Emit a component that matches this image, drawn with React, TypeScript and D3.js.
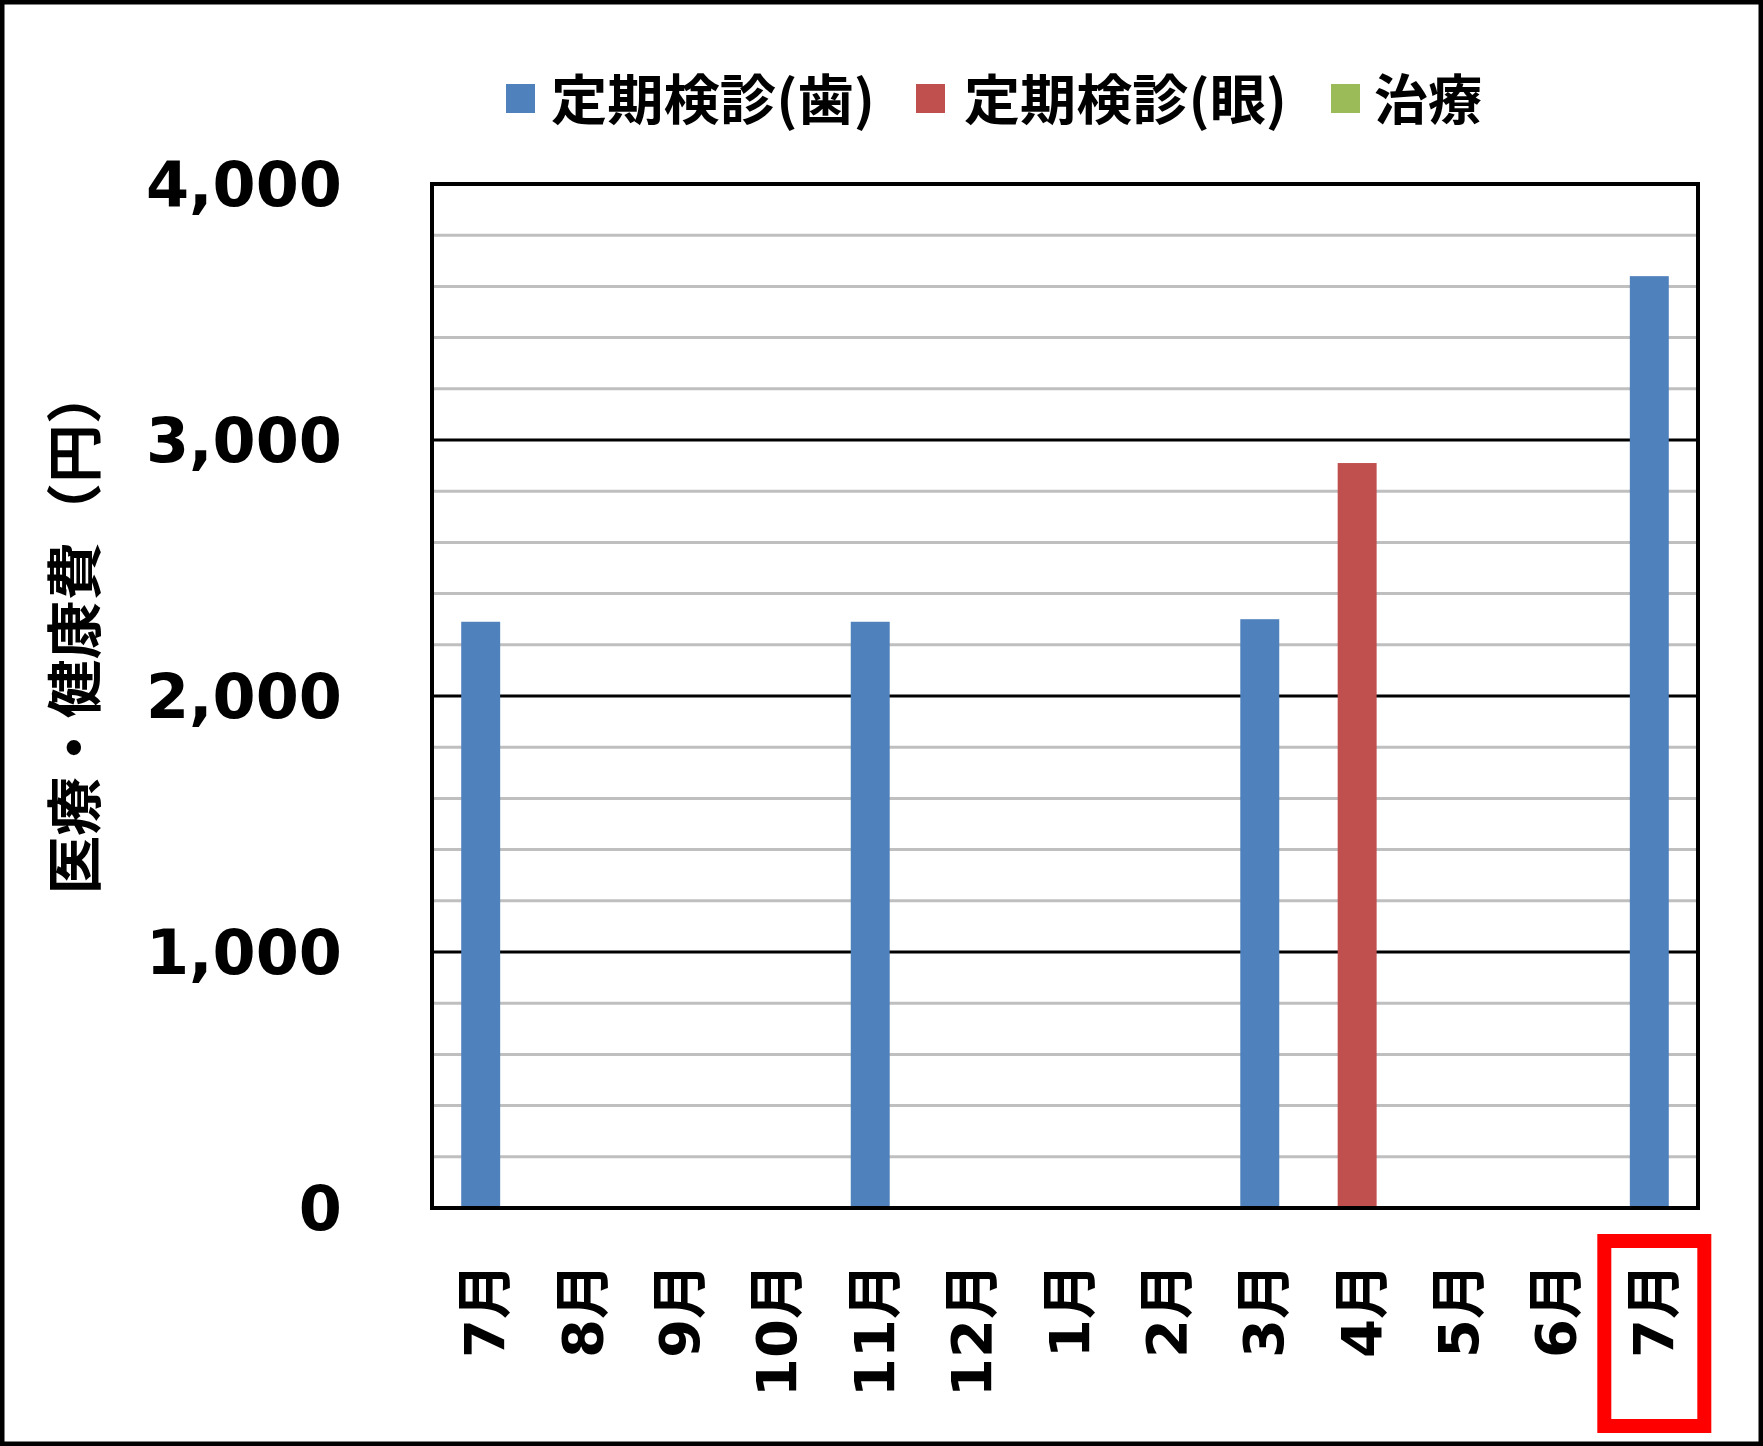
import React from "react";
import * as d3 from "d3";

const categories = ["7月", "8月", "9月", "10月", "11月", "12月", "1月", "2月", "3月", "4月", "5月", "6月", "7月"];
const seriesNames = ["定期検診(歯)", "定期検診(眼)", "治療"];
const dental = [2290, 0, 0, 0, 2290, 0, 0, 0, 2300, 0, 0, 0, 3640];
const eye = [0, 0, 0, 0, 0, 0, 0, 0, 0, 2910, 0, 0, 0];
const treatment = [0, 0, 0, 0, 0, 0, 0, 0, 0, 0, 0, 0, 0];
const seriesColors = ["#4F81BD", "#C0504D", "#9BBB59"];
const majorTicks = [0, 1000, 2000, 3000, 4000];
const yTitle = "医療・健康費（円）";

const W = 1763;
const H = 1446;
const L = 432;
const R = 1698;
const T = 184;
const B = 1208;

export default function App() {
  const idx = categories.map((_, i) => i);
  const x = d3.scaleBand<number>().domain(idx).range([L, R]).paddingInner(0.6).paddingOuter(0.3);
  const y = d3.scaleLinear().domain([0, 4000]).range([B, T]);
  const rows = idx.map((i) => ({ i, s0: dental[i], s1: eye[i], s2: treatment[i] }));
  const stacked = d3.stack<any>().keys(["s0", "s1", "s2"])(rows);
  const minor = d3.range(200, 4000, 200).filter((v) => v % 1000 !== 0);
  const numFont = "'DejaVu Sans', 'Noto Sans CJK JP', sans-serif";
  const cjkFont = "'Noto Sans CJK JP', sans-serif";
  const fmt = d3.format(",");

  const legendItems = [
    { sx: 506, tx: 551, tl: 324 },
    { sx: 916, tx: 964, tl: 323 },
    { sx: 1331, tx: 1374, tl: 108 },
  ];

  const last = idx[idx.length - 1];
  const boxCx = (x(last) as number) + x.bandwidth() / 2 + 5;

  return (
    <svg width={W} height={H} style={{ position: "absolute", left: 0, top: 0, background: "#fff" }}>
      <rect x={0} y={0} width={W} height={H} fill="#fff" />
      {/* gridlines */}
      {minor.map((v) => (
        <line key={"m" + v} x1={L} x2={R} y1={y(v)} y2={y(v)} stroke="#BFBFBF" strokeWidth={3} />
      ))}
      {majorTicks.filter((v) => v > 0 && v < 4000).map((v) => (
        <line key={"M" + v} x1={L} x2={R} y1={y(v)} y2={y(v)} stroke="#000" strokeWidth={3} />
      ))}
      {/* bars */}
      {stacked.map((s, si) =>
        s.map((d, di) =>
          d[1] - d[0] > 0 ? (
            <rect
              key={si + "-" + di}
              x={x(di) as number}
              y={y(d[1])}
              width={x.bandwidth()}
              height={y(d[0]) - y(d[1])}
              fill={seriesColors[si]}
            />
          ) : null
        )
      )}
      {/* plot border */}
      <rect x={L} y={T} width={R - L} height={B - T} fill="none" stroke="#000" strokeWidth={4} />
      {/* y tick labels */}
      {majorTicks.map((v) => (
        <text
          key={"t" + v}
          x={342}
          y={y(v)}
          textAnchor="end"
          dominantBaseline="central"
          fontFamily={numFont}
          fontWeight="bold"
          fontSize={62}
          fill="#000"
        >
          {fmt(v)}
        </text>
      ))}
      {/* y title */}
      <text
        transform="translate(70,630) rotate(-90)"
        textAnchor="middle"
        dominantBaseline="central"
        fontFamily={cjkFont}
        fontWeight="bold"
        fontSize={56}
        textLength={529}
        lengthAdjust="spacingAndGlyphs"
        fill="#000"
      >
        {yTitle}
      </text>
      {/* x labels */}
      {categories.map((c, i) => (
        <text
          key={"x" + i}
          transform={`translate(${(x(i) as number) + x.bandwidth() / 2 + 4},1263) rotate(-90)`}
          textAnchor="end"
          dominantBaseline="central"
          fontFamily={numFont}
          fontWeight="bold"
          fontSize={56}
          fill="#000"
        >
          {c}
        </text>
      ))}
      {/* legend */}
      {seriesNames.map((n, i) => (
        <g key={"l" + i}>
          <rect x={legendItems[i].sx} y={84} width={29} height={29} fill={seriesColors[i]} />
          <text
            x={legendItems[i].tx}
            y={96}
            dominantBaseline="central"
            fontFamily={cjkFont}
            fontWeight="bold"
            fontSize={54}
            textLength={legendItems[i].tl}
            lengthAdjust="spacingAndGlyphs"
            fill="#000"
          >
            {n}
          </text>
        </g>
      ))}
      {/* highlight box */}
      <rect x={boxCx - 50} y={1241} width={100} height={185} fill="none" stroke="#FF0000" strokeWidth={14} />
      {/* outer border */}
      <rect x={2} y={2} width={W - 4} height={H - 4} fill="none" stroke="#000" strokeWidth={5} />
    </svg>
  );
}
